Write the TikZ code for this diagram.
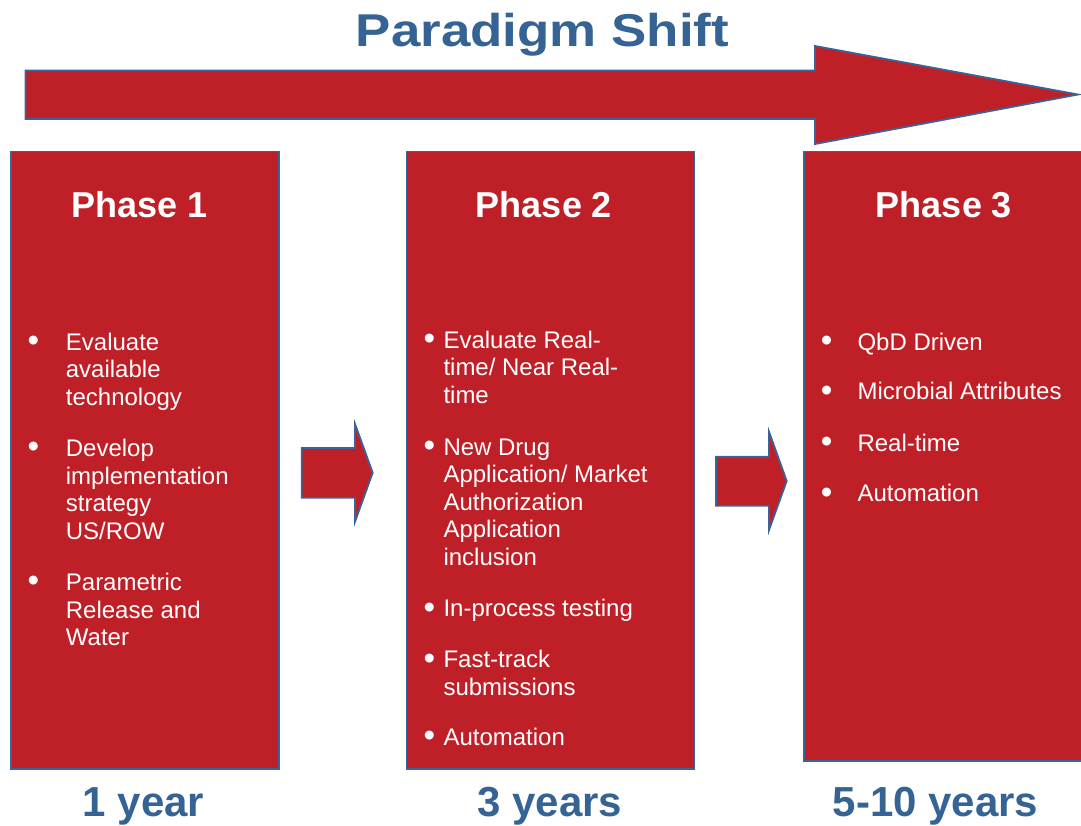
\documentclass[tikz,border=0pt]{standalone}
\usepackage{fontspec}
\setmainfont{Liberation Sans}
\newfontfamily\ttlfont[FakeStretch=1.15]{Liberation Sans}
\definecolor{phred}{RGB}{191,31,38}
\definecolor{phblue}{RGB}{58,100,150}
\definecolor{txtblue}{RGB}{52,99,148}
\newcommand\bitem[5]{%
  \node[bul] (#1b) at (#2,#4+1.5) {•};
  \node[itm] (#1) at (#3,#4) {\begin{tabular}[t]{@{}l@{}}#5\end{tabular}};
}
\begin{document}
\begin{tikzpicture}[x=1pt,y=-1pt,
  shape fill/.style={fill=phred,draw=phblue,line width=1.8pt,line join=miter},
  box/.style={shape fill,rectangle,inner sep=0pt},
  phase/.style={text=white,font=\fontsize{36}{40}\selectfont\bfseries,anchor=base,inner sep=0pt},
  years/.style={text=txtblue,font=\fontsize{42}{46}\selectfont\bfseries,anchor=base,inner sep=0pt},
  bul/.style={text=white,font=\fontsize{33}{36}\selectfont,anchor=base,inner sep=0pt},
  itm/.style={text=white,font=\fontsize{24}{27.6}\selectfont,anchor=base west,inner sep=0pt}]
\useasboundingbox (0,0) rectangle (1081,825);
% title
\node[text=txtblue,font=\fontsize{46}{50}\ttlfont\bfseries,anchor=base,inner sep=0pt] (title) at (542.5,46) {Paradigm Shift};
% big arrow
\draw[shape fill] (25.5,70.5) -- (815,70.5) -- (815,46) -- (1078,94.5) -- (815,144) -- (815,119) -- (25.5,119) -- cycle;
% boxes
\node[box,minimum width=268pt,minimum height=617.5pt] (p1) at (145,460.25) {};
\node[box,minimum width=288pt,minimum height=617.5pt] (p2) at (550.5,460.25) {};
\node[box,minimum width=279pt,minimum height=609.5pt] (p3) at (943.5,456.25) {};
% small arrows
\draw[shape fill] (301.7,448) -- (355,448) -- (355,424) -- (372.7,472.7) -- (355,521.7) -- (355,497.7) -- (301.7,497.7) -- cycle;
\draw[shape fill] (716,456.7) -- (769,456.7) -- (769,431.7) -- (786.7,481) -- (769,530) -- (769,505.7) -- (716,505.7) -- cycle;
% phase titles
\node[phase] (h1) at (140,217) {Phase 1};
\node[phase] (h2) at (544,217) {Phase 2};
\node[phase] (h3) at (944,217) {Phase 3};
% box 1 items
\bitem{a1}{33.5}{65.7}{350}{Evaluate\\available\\technology}
\bitem{a2}{33.5}{65.7}{456.4}{Develop\\implementation\\strategy\\US/ROW}
\bitem{a3}{33.5}{65.7}{590.4}{Parametric\\Release and\\Water}
% box 2 items
\bitem{b1}{429.3}{443.3}{348}{Evaluate Real-\\time/ Near Real-\\time}
\bitem{b2}{429.3}{443.3}{455}{New Drug\\Application/ Market\\Authorization\\Application\\inclusion}
\bitem{b3}{429.3}{443.3}{616.7}{In-process testing}
\bitem{b4}{429.3}{443.3}{667.5}{Fast-track\\submissions}
\bitem{b5}{429.3}{443.3}{745}{Automation}
% box 3 items
\bitem{c1}{826.7}{857.3}{350}{QbD Driven}
\bitem{c2}{826.7}{857.3}{399.5}{Microbial Attributes}
\bitem{c3}{826.7}{857.3}{451}{Real-time}
\bitem{c4}{826.7}{857.3}{501.5}{Automation}
% years
\node[years] (y1) at (143.5,816) {1 year};
\node[years] (y2) at (550,816) {3 years};
\node[years] (y3) at (935.5,816) {5-10 years};
\end{tikzpicture}
\end{document}
